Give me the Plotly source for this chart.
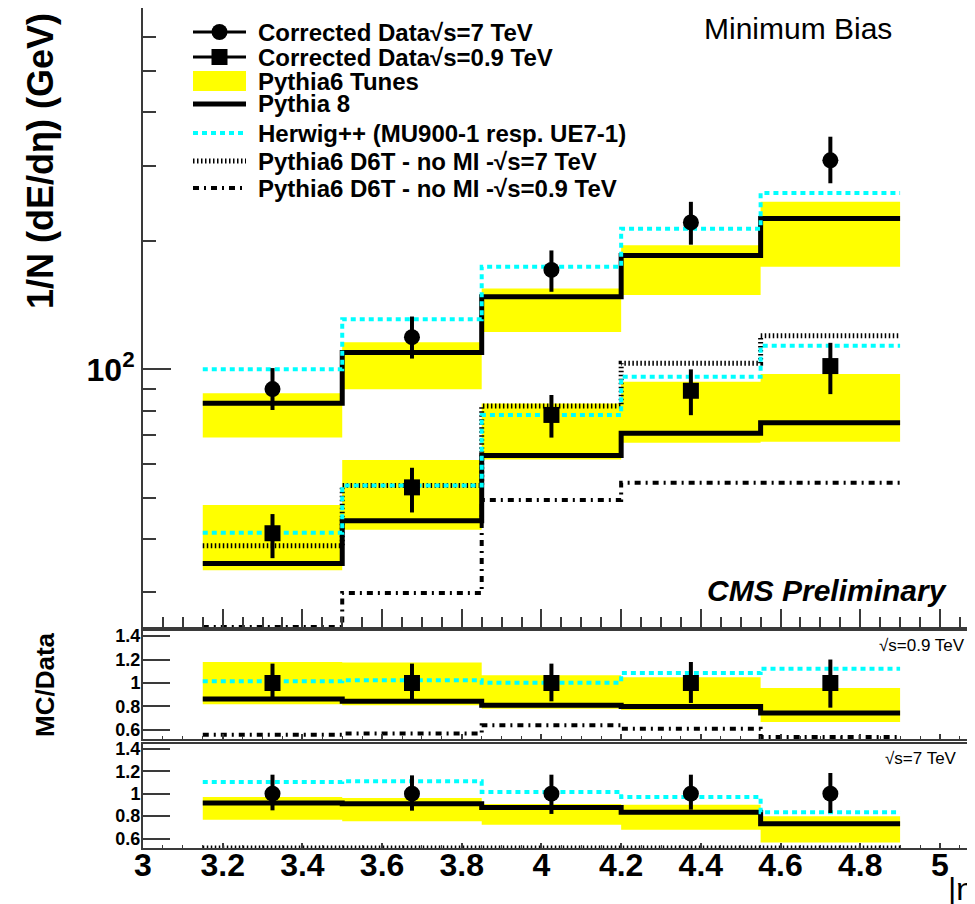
import numpy as np
import plotly.graph_objects as go

# |eta| binning of the forward measurement
bin_edges = [3.15, 3.5, 3.85, 4.2, 4.55, 4.9]
bin_centres = [3.325, 3.675, 4.025, 4.375, 4.725]

# top panel: 1/N dE/deta (GeV)
data_7 = [89.9, 119.0, 171.0, 221.0, 309.0]
data_7_hi = [100.7, 133.0, 190.0, 247.0, 351.0]
data_7_lo = [80.3, 106.0, 152.0, 196.0, 273.0]
data_09 = [41.3, 52.9, 78.2, 89.1, 101.8]
data_09_hi = [45.8, 58.8, 87.1, 100.0, 115.4]
data_09_lo = [36.1, 46.2, 69.2, 78.1, 87.5]
pythia8_7 = [83.3, 109.6, 148.0, 185.0, 225.7]
pythia8_09 = [35.1, 44.2, 62.8, 70.8, 75.0]
tunes_7_lo = [69.2, 89.8, 122.3, 149.3, 174.0]
tunes_7_hi = [87.9, 115.7, 154.8, 195.5, 247.0]
tunes_09_lo = [33.8, 42.1, 61.5, 67.3, 67.7]
tunes_09_hi = [48.1, 61.3, 83.2, 93.5, 97.5]
herwig_7 = [100.0, 131.0, 174.0, 213.7, 259.0]
herwig_09 = [41.4, 53.4, 78.2, 96.1, 113.6]
d6t_7 = [38.6, 53.4, 82.1, 103.3, 119.9]
d6t_09 = [23.2, 29.9, 49.4, 54.2, 54.2]

# middle panel: MC/Data at sqrt(s)=0.9 TeV
r09_data_hi = [1.165, 1.165, 1.165, 1.179, 1.20]
r09_data_lo = [0.876, 0.860, 0.844, 0.830, 0.790]
r09_pythia8 = [0.864, 0.844, 0.810, 0.800, 0.745]
r09_tunes_hi = [1.179, 1.174, 1.066, 1.050, 0.957]
r09_tunes_lo = [0.819, 0.810, 0.780, 0.770, 0.668]
r09_herwig = [1.015, 1.023, 1.003, 1.085, 1.122]
r09_d6t = [0.56, 0.57, 0.64, 0.61, 0.54]

# bottom panel: MC/Data at sqrt(s)=7 TeV
r7_data_hi = [1.169, 1.163, 1.169, 1.169, 1.184]
r7_data_lo = [0.852, 0.849, 0.820, 0.858, 0.828]
r7_pythia8 = [0.917, 0.911, 0.878, 0.834, 0.733]
r7_tunes_hi = [0.970, 0.962, 0.908, 0.902, 0.800]
r7_tunes_lo = [0.769, 0.754, 0.724, 0.680, 0.567]
r7_herwig = [1.104, 1.110, 1.015, 0.970, 0.834]
r7_d6t = [0.43, 0.45, 0.48, 0.47, 0.39]

ratio_ticks = [0.6, 0.8, 1.0, 1.2, 1.4]
ratio_ticktext = ["0.6", "0.8", "1", "1.2", "1.4"]

TOP_RANGE = [24.9, 703.0]
MID_RANGE = [0.523, 1.443]
BOT_RANGE = [0.517, 1.442]

# the page body has an 8px margin, so the figure is 8px smaller than the window
OFF = 8
W, H = 975 - OFF, 904 - OFF
FONT = "Liberation Sans, Arial, sans-serif"
AX = "#3a3a3a"
YELLOW = "#ffff00"
CYAN = "#00ffff"
HERWIG_DASH = "5px,4px"
D6T7_DASH = "1.5px,2.5px"
D6T09_DASH = "6px,5px,2px,5px"


def px(x):
    return (x - OFF) / W


def py(y):
    return 1 - (y - OFF) / H


fig = go.Figure()


def steps(vals):
    vals = list(vals)
    return vals + [vals[-1]]


def add_band(lo, hi, xa, ya):
    fig.add_trace(go.Scatter(x=bin_edges, y=steps(lo), mode="lines",
                             line=dict(width=0, shape="hv"),
                             xaxis=xa, yaxis=ya, hoverinfo="skip"))
    fig.add_trace(go.Scatter(x=bin_edges, y=steps(hi), mode="lines",
                             line=dict(width=0, shape="hv"),
                             fill="tonexty", fillcolor=YELLOW,
                             xaxis=xa, yaxis=ya, hoverinfo="skip"))


def add_step(vals, xa, ya, color="black", width=5, dash="solid"):
    fig.add_trace(go.Scatter(x=bin_edges, y=steps(vals), mode="lines",
                             line=dict(color=color, width=width, shape="hv", dash=dash),
                             xaxis=xa, yaxis=ya))


def add_points(vals, hi, lo, xa, ya, symbol):
    vals, hi, lo = np.array(vals), np.array(hi), np.array(lo)
    fig.add_trace(go.Scatter(
        x=bin_centres, y=vals, mode="markers",
        marker=dict(symbol=symbol, size=16, color="black"),
        error_y=dict(type="data", symmetric=False, array=hi - vals,
                     arrayminus=vals - lo, thickness=4, width=0, color="black"),
        xaxis=xa, yaxis=ya))


# top panel
add_band(tunes_7_lo, tunes_7_hi, "x", "y")
add_band(tunes_09_lo, tunes_09_hi, "x", "y")
add_step(np.clip(d6t_09, TOP_RANGE[0], None), "x", "y", width=4, dash=D6T09_DASH)
add_step(d6t_7, "x", "y", width=5, dash=D6T7_DASH)
add_step(pythia8_7, "x", "y")
add_step(pythia8_09, "x", "y")
add_step(herwig_7, "x", "y", color=CYAN, width=4, dash=HERWIG_DASH)
add_step(herwig_09, "x", "y", color=CYAN, width=4, dash=HERWIG_DASH)
add_points(data_7, data_7_hi, data_7_lo, "x", "y", "circle")
add_points(data_09, data_09_hi, data_09_lo, "x", "y", "square")

# middle panel, 0.9 TeV ratios
ones = [1.0] * len(bin_centres)
add_band(r09_tunes_lo, r09_tunes_hi, "x2", "y2")
add_step(np.clip(r09_d6t, MID_RANGE[0], None), "x2", "y2", width=4, dash=D6T09_DASH)
add_step(r09_pythia8, "x2", "y2")
add_step(r09_herwig, "x2", "y2", color=CYAN, width=4, dash=HERWIG_DASH)
add_points(ones, r09_data_hi, r09_data_lo, "x2", "y2", "square")

# bottom panel, 7 TeV ratios (D6T sits below the axis, drawn at the floor like ROOT)
add_band(r7_tunes_lo, r7_tunes_hi, "x3", "y3")
add_step(np.clip(r7_d6t, BOT_RANGE[0], None), "x3", "y3", width=5, dash=D6T7_DASH)
add_step(r7_pythia8, "x3", "y3")
add_step(r7_herwig, "x3", "y3", color=CYAN, width=4, dash=HERWIG_DASH)
add_points(ones, r7_data_hi, r7_data_lo, "x3", "y3", "circle")

x_common = dict(range=[3, 5.088], showline=True, linecolor=AX, linewidth=2,
                mirror=True, ticks="inside", tickcolor=AX, tickwidth=1.5,
                tick0=3, dtick=0.2, showgrid=False, zeroline=False,
                automargin=False, domain=[px(143), 1])

y_ratio = dict(tickmode="array", tickvals=ratio_ticks, ticktext=ratio_ticktext,
               ticks="inside", ticklen=27, tickcolor=AX, tickwidth=1.5,
               showline=True, linecolor=AX, linewidth=2, mirror=False,
               showgrid=False, zeroline=False, automargin=False,
               ticklabelstandoff=-3,
               tickfont=dict(family=FONT, size=18, color="black", weight="bold"))

fig.update_layout(
    width=W, height=H,
    margin=dict(l=0, r=0, t=0, b=0),
    paper_bgcolor="white", plot_bgcolor="white",
    showlegend=False, template="none",
    xaxis=dict(**x_common, anchor="y", showticklabels=False, ticklen=18,
               minor=dict(tick0=3, dtick=0.05, ticks="inside", ticklen=10,
                          tickcolor=AX, tickwidth=1.5)),
    yaxis=dict(type="log", range=[np.log10(TOP_RANGE[0]), np.log10(TOP_RANGE[1])],
               domain=[py(627), py(8)], anchor="x",
               tickmode="array", tickvals=[100], ticktext=["10<sup>2</sup>"],
               ticks="inside", ticklen=28, tickcolor=AX, tickwidth=1.5,
               minor=dict(tickmode="array",
                          tickvals=[30, 40, 50, 60, 70, 80, 90, 200, 300, 400, 500, 600],
                          ticks="inside", ticklen=13, tickcolor=AX, tickwidth=1.5),
               showline=True, linecolor=AX, linewidth=2, mirror=False,
               showgrid=False, zeroline=False, automargin=False,
               ticklabelstandoff=0,
               tickfont=dict(family=FONT, size=32, color="black", weight="bold")),
    xaxis2=dict(**x_common, anchor="y2", showticklabels=False, ticklen=5,
                minor=dict(tick0=3, dtick=0.05, ticks="inside", ticklen=3,
                           tickcolor=AX, tickwidth=1)),
    yaxis2=dict(**y_ratio, range=MID_RANGE, domain=[py(739), py(631)], anchor="x2"),
    xaxis3=dict(**x_common, anchor="y3", showticklabels=True, ticklen=5,
                ticklabelstandoff=-12,
                tickfont=dict(family=FONT, size=32, color="black", weight="bold"),
                minor=dict(tick0=3, dtick=0.05, ticks="inside", ticklen=3,
                           tickcolor=AX, tickwidth=1)),
    yaxis3=dict(**y_ratio, range=BOT_RANGE, domain=[py(848), py(744)], anchor="x3"),
)

annotations = [
    dict(text="1/N (dE/dη) (GeV)", x=px(40), y=py(161), textangle=-90,
         font=dict(family=FONT, size=36, color="black", weight="bold")),
    dict(text="MC/Data", x=px(45), y=py(685), textangle=-90,
         font=dict(family=FONT, size=26, color="black", weight="bold")),
    dict(text="|η|", x=px(946), y=py(889), xanchor="left",
         font=dict(family=FONT, size=32, color="black")),
    dict(text="Minimum Bias", x=px(798), y=py(28),
         font=dict(family=FONT, size=30, color="black")),
    dict(text="<i>CMS Preliminary</i>", x=px(827), y=py(590),
         font=dict(family=FONT, size=30, color="black", weight="bold")),
    dict(text="√s=0.9 TeV", x=px(877), y=py(645), xanchor="left",
         font=dict(family=FONT, size=17, color="black")),
    dict(text="√s=7 TeV", x=px(883), y=py(758), xanchor="left",
         font=dict(family=FONT, size=17, color="black")),
]

# legend drawn by hand, ROOT TLegend style
legend_rows = [
    ("Corrected Data√s=7 TeV", 32),
    ("Corrected Data√s=0.9 TeV", 57),
    ("Pythia6 Tunes", 81),
    ("Pythia 8", 104),
    ("Herwig++ (MU900-1 resp. UE7-1)", 133),
    ("Pythia6 D6T - no MI -√s=7 TeV", 161),
    ("Pythia6 D6T - no MI -√s=0.9 TeV", 188),
]
for label, yy in legend_rows:
    annotations.append(dict(text=label, x=px(256), y=py(yy), xanchor="left",
                            font=dict(family=FONT, size=24, color="black", weight="bold")))
for a in annotations:
    a.setdefault("xref", "paper")
    a.setdefault("yref", "paper")
    a.setdefault("xanchor", "center")
    a.setdefault("yanchor", "middle")
    a.setdefault("showarrow", False)

L0, L1 = px(193), px(246)
LC = 219.5
shapes = []


def hline(yy, color="black", width=4, dash="solid"):
    shapes.append(dict(type="line", xref="paper", yref="paper", x0=L0, x1=L1,
                       y0=py(yy), y1=py(yy), line=dict(color=color, width=width, dash=dash)))


y1, y2, y3, y4, y5, y6, y7 = [yy for _, yy in legend_rows]
hline(y1, width=3)
shapes.append(dict(type="circle", xref="paper", yref="paper", x0=px(LC - 8), x1=px(LC + 8),
                   y0=py(y1 + 8), y1=py(y1 - 8), fillcolor="black", line=dict(width=0)))
hline(y2, width=3)
shapes.append(dict(type="rect", xref="paper", yref="paper", x0=px(LC - 8), x1=px(LC + 8),
                   y0=py(y2 + 8), y1=py(y2 - 8), fillcolor="black", line=dict(width=0)))
shapes.append(dict(type="rect", xref="paper", yref="paper", x0=L0, x1=L1,
                   y0=py(y3 + 10), y1=py(y3 - 10), fillcolor=YELLOW, line=dict(width=0)))
hline(y4, width=5)
hline(y5, color=CYAN, width=4, dash=HERWIG_DASH)
hline(y6, width=5, dash=D6T7_DASH)
hline(y7, width=4, dash=D6T09_DASH)

fig.update_layout(annotations=annotations, shapes=shapes)

fig.write_html("out.html")
